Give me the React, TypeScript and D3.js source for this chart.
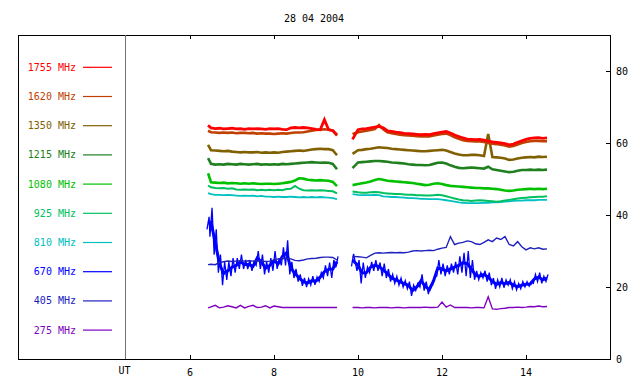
import React from "react";
import * as d3 from "d3";

const TITLE = "28 04 2004";
const FREQS = ["1755 MHz", "1620 MHz", "1350 MHz", "1215 MHz", "1080 MHz", "925 MHz", "810 MHz", "670 MHz", "405 MHz", "275 MHz"];
const COLORS = ["#ff0000", "#c04000", "#806000", "#208020", "#00c000", "#00c060", "#00c0c0", "#0000ff", "#2020c0", "#8000c0"];
const X_TICKS = [6, 8, 10, 12, 14];
const Y_TICKS = [0, 20, 40, 60, 80];

const T1 = [6.43, 6.5, 6.6, 6.7, 6.8, 6.9, 7.0, 7.1, 7.2, 7.3, 7.4, 7.5, 7.6, 7.7, 7.8, 7.9, 8.0, 8.1, 8.2, 8.3, 8.4, 8.5, 8.6, 8.7, 8.8, 8.9, 9.0, 9.1, 9.2, 9.3, 9.4, 9.5];
const T2 = [9.87, 10.0, 10.1, 10.2, 10.3, 10.4, 10.5, 10.6, 10.7, 10.8, 10.9, 11.0, 11.1, 11.2, 11.3, 11.4, 11.5, 11.6, 11.7, 11.8, 11.9, 12.0, 12.1, 12.2, 12.3, 12.4, 12.5, 12.6, 12.7, 12.8, 12.9, 13.0, 13.1, 13.2, 13.3, 13.4, 13.5, 13.6, 13.7, 13.8, 13.9, 14.0, 14.1, 14.2, 14.3, 14.4, 14.5];

const F1755_A = [64.9, 64.2, 64.0, 64.1, 63.9, 64.0, 64.1, 63.9, 64.0, 63.8, 64.0, 63.9, 64.0, 63.9, 63.8, 64.0, 63.9, 64.0, 63.8, 63.7, 64.2, 64.3, 64.2, 64.3, 64.2, 64.0, 63.8, 63.7, 66.5, 63.7, 63.4, 62.3];
const F1755_B = [61.0, 63.7, 63.9, 64.0, 64.2, 64.4, 64.6, 64.2, 63.4, 63.2, 63.0, 62.9, 62.7, 62.6, 62.5, 62.4, 62.3, 62.4, 62.3, 62.6, 62.8, 63.0, 63.2, 62.8, 62.2, 61.8, 61.4, 61.1, 61.0, 60.9, 61.0, 60.8, 60.5, 60.3, 60.2, 60.0, 59.8, 59.5, 59.7, 60.2, 60.6, 61.0, 61.3, 61.4, 61.5, 61.3, 61.4];
const F1620_A = [63.4, 63.0, 62.9, 62.8, 62.9, 62.8, 62.9, 62.7, 62.8, 62.8, 62.7, 62.8, 62.6, 62.7, 62.6, 62.6, 62.5, 62.6, 62.7, 62.6, 62.8, 62.9, 62.9, 63.0, 63.2, 63.4, 63.6, 63.7, 63.8, 63.7, 63.5, 62.0];
const F1620_B = [62.5, 63.0, 63.2, 63.4, 63.6, 63.9, 65.0, 63.8, 63.0, 62.7, 62.5, 62.3, 62.2, 62.1, 62.0, 61.9, 61.8, 61.9, 61.8, 62.1, 62.3, 62.5, 62.6, 62.2, 61.6, 61.2, 60.8, 60.6, 60.5, 60.4, 60.4, 60.3, 60.0, 59.8, 59.7, 59.5, 59.3, 59.0, 59.2, 59.6, 60.0, 60.3, 60.5, 60.6, 60.6, 60.5, 60.5];
const F1350_A = [59.5, 58.0, 57.9, 57.8, 57.7, 57.8, 57.6, 57.5, 57.4, 57.5, 57.4, 57.4, 57.5, 57.3, 57.4, 57.3, 57.4, 57.3, 57.5, 57.6, 57.7, 57.8, 57.9, 57.8, 58.0, 58.2, 58.3, 58.4, 58.3, 58.3, 58.0, 56.6];
const F1350_B = [57.0, 58.0, 58.1, 58.3, 58.4, 58.6, 58.8, 58.7, 58.6, 58.4, 58.3, 58.2, 58.1, 58.0, 57.9, 57.8, 57.7, 57.7, 57.8, 57.9, 58.0, 58.1, 57.9, 57.5, 57.1, 56.8, 56.6, 56.6, 56.7, 56.7, 56.6, 56.4, 62.5, 56.1, 56.0, 55.9, 55.7, 55.3, 55.4, 55.7, 55.9, 56.0, 56.1, 56.0, 56.2, 56.1, 56.2];
const F1215_A = [55.8, 54.2, 54.0, 54.1, 54.0, 54.2, 54.1, 54.0, 54.2, 54.1, 54.0, 54.1, 54.2, 54.0, 54.1, 54.0, 54.1, 54.0, 54.2, 54.1, 54.2, 54.3, 54.4, 54.5, 54.6, 54.7, 54.6, 54.5, 54.6, 54.5, 54.2, 52.7];
const F1215_B = [53.0, 54.6, 54.7, 54.8, 54.9, 55.0, 55.0, 54.9, 54.8, 54.6, 54.5, 54.4, 54.3, 54.1, 54.0, 53.9, 53.9, 53.8, 53.9, 54.2, 54.5, 54.6, 54.3, 53.8, 53.4, 53.1, 53.0, 53.1, 53.2, 53.1, 53.0, 52.9, 53.4, 52.7, 52.5, 52.3, 52.1, 51.9, 52.0, 52.3, 52.5, 52.5, 52.6, 52.5, 52.6, 52.5, 52.6];
const F1080_A = [51.6, 49.1, 49.0, 48.9, 49.0, 48.8, 48.9, 48.8, 48.7, 48.8, 48.7, 48.8, 48.7, 48.6, 48.7, 48.7, 48.6, 48.7, 48.8, 49.0, 49.2, 49.6, 50.2, 50.1, 49.8, 49.7, 49.6, 49.7, 49.6, 49.5, 49.2, 48.0];
const F1080_B = [48.3, 48.6, 48.8, 49.0, 49.3, 49.7, 50.0, 49.8, 49.5, 49.4, 49.3, 49.2, 49.1, 49.0, 48.9, 48.7, 48.5, 48.3, 48.4, 48.7, 48.8, 48.6, 48.3, 48.1, 48.0, 47.9, 47.8, 47.7, 47.6, 47.5, 47.5, 47.4, 47.4, 47.3, 47.2, 47.0, 46.8, 46.7, 46.8, 47.0, 47.1, 47.2, 47.3, 47.2, 47.3, 47.2, 47.3];
const F925_A = [48.2, 47.7, 47.5, 47.4, 47.5, 47.3, 47.4, 47.1, 47.0, 47.1, 47.0, 47.1, 46.9, 47.0, 46.9, 47.0, 46.9, 47.0, 46.9, 47.2, 47.3, 48.1, 47.3, 46.9, 46.8, 46.9, 46.8, 46.9, 46.8, 46.7, 46.6, 46.0];
const F925_B = [46.5, 46.3, 46.2, 46.2, 46.3, 46.4, 46.3, 46.1, 46.0, 45.9, 45.8, 45.8, 45.7, 45.6, 45.6, 45.5, 45.5, 45.4, 45.4, 45.5, 45.6, 45.5, 45.2, 44.9, 44.6, 44.3, 44.1, 44.0, 43.9, 44.0, 44.1, 44.0, 43.9, 43.8, 43.7, 43.8, 44.0, 44.2, 44.4, 44.6, 44.7, 44.8, 44.9, 45.0, 45.1, 45.1, 45.2];
const F810_A = [46.1, 45.8, 45.6, 45.6, 45.5, 45.6, 45.5, 45.4, 45.3, 45.4, 45.3, 45.4, 45.2, 45.3, 45.1, 45.1, 45.0, 45.1, 45.0, 45.0, 45.1, 45.0, 44.9, 45.0, 44.9, 45.0, 44.9, 45.0, 44.9, 44.8, 44.7, 44.4];
const F810_B = [45.8, 45.6, 45.5, 45.5, 45.5, 45.6, 45.5, 45.2, 45.1, 45.0, 45.0, 44.9, 44.8, 44.7, 44.7, 44.6, 44.5, 44.5, 44.4, 44.4, 44.4, 44.3, 44.1, 43.9, 43.7, 43.5, 43.4, 43.3, 43.3, 43.3, 43.3, 43.4, 43.4, 43.5, 43.5, 43.6, 43.7, 43.8, 43.9, 44.0, 44.0, 44.1, 44.1, 44.1, 44.2, 44.2, 44.2];
const F670_LO_A = [36, 34, 29, 24, 20.5, 22, 23, 24, 25, 25, 25, 24.5, 26, 25, 23.5, 24, 24.5, 25, 26, 26, 23.5, 22.5, 21.5, 20.3, 20, 20.5, 20.6, 21.5, 22.5, 23, 22.5, 25.5];
const F670_HI_A = [39.5, 42, 36, 29, 27, 27, 28, 28, 29, 27.5, 27.5, 27, 30, 29, 27, 28, 30, 28, 31, 33, 27, 25, 23.5, 22.5, 22.3, 23, 22.8, 24, 26, 26.8, 27.5, 28.5];
const F670_LO_B = [25.7, 24.5, 21.0, 22.5, 24.0, 24.5, 24.5, 23.0, 22.5, 21.5, 21.0, 20.5, 20.0, 19.5, 17.5, 19.0, 20.0, 19.0, 18.0, 20.5, 23.0, 23.5, 23.0, 23.5, 24.0, 23.5, 24.0, 23.0, 22.5, 22.0, 22.0, 22.5, 21.5, 20.5, 19.5, 20.0, 19.8, 20.5, 19.5, 19.2, 19.5, 20.0, 20.2, 21.0, 21.5, 21.0, 21.5];
const F670_HI_B = [29.2, 27.5, 26.8, 25.5, 27.0, 27.5, 26.8, 26.5, 25.0, 23.5, 23.0, 22.5, 21.8, 21.5, 20.5, 21.0, 23.5, 21.5, 20.5, 23.0, 27.5, 26.5, 26.0, 26.5, 27.0, 28.5, 29.5, 30.0, 27.5, 24.5, 24.0, 24.5, 24.0, 22.5, 22.0, 22.5, 22.0, 22.0, 21.5, 21.0, 21.5, 21.5, 21.5, 23.5, 24.0, 23.0, 23.5];
const F405_A = [26.2, 26.3, 26.2, 26.8, 27.0, 27.2, 27.1, 27.2, 27.3, 27.2, 27.3, 27.2, 27.3, 27.2, 27.1, 27.2, 27.5, 27.8, 28.0, 27.9, 27.8, 27.4, 27.3, 27.5, 27.8, 27.9, 28.0, 28.2, 28.3, 28.3, 28.2, 27.5];
const F405_B = [28.5, 28.4, 28.3, 28.1, 28.8, 29.4, 29.5, 29.4, 29.5, 29.6, 29.5, 29.6, 29.5, 29.7, 30.0, 30.1, 30.0, 30.1, 30.2, 30.1, 30.5, 30.8, 31.0, 34.0, 31.8, 32.2, 32.4, 32.8, 32.6, 32.0, 31.8, 32.4, 33.1, 32.6, 33.6, 33.2, 34.0, 31.8, 31.4, 32.6, 31.2, 30.3, 30.9, 30.6, 30.9, 30.5, 30.6];
const F275_A = [14.2, 14.5, 14.9, 14.2, 14.4, 14.8, 14.5, 14.2, 14.9, 14.2, 14.6, 14.9, 14.3, 14.4, 14.8, 14.2, 14.7, 14.5, 14.3, 14.3, 14.3, 14.3, 14.3, 14.3, 14.3, 14.3, 14.3, 14.3, 14.3, 14.3, 14.3, 14.3];
const F275_B = [14.3, 14.3, 14.2, 14.3, 14.3, 14.2, 14.3, 14.3, 14.3, 14.2, 14.3, 14.3, 14.2, 14.3, 14.3, 14.3, 14.3, 14.4, 14.3, 14.3, 14.4, 15.8, 14.4, 15.0, 14.3, 14.3, 14.3, 14.3, 14.2, 14.3, 14.3, 14.2, 17.3, 13.9, 13.8, 14.0, 14.1, 14.3, 14.3, 14.4, 14.3, 14.4, 14.6, 14.5, 14.7, 14.5, 14.6];

const SMOOTH = [
  { k: 0, a: F1755_A, b: F1755_B, w: 2.8 },
  { k: 1, a: F1620_A, b: F1620_B, w: 2.6 },
  { k: 2, a: F1350_A, b: F1350_B, w: 2.6 },
  { k: 3, a: F1215_A, b: F1215_B, w: 2.6 },
  { k: 4, a: F1080_A, b: F1080_B, w: 2.6 },
  { k: 5, a: F925_A, b: F925_B, w: 2.0 },
  { k: 6, a: F810_A, b: F810_B, w: 1.8 },
  { k: 9, a: F275_A, b: F275_B, w: 1.4 },
];

const FONT = "'DejaVu Sans Mono', monospace";

export default function App() {
  const L = 18, R = 610, T = 35, B = 359, DIV = 125;
  const x = d3.scaleLinear().domain([4.5, 16]).range([127, 610]);
  const y = d3.scaleLinear().domain([0, 90]).range([B, T]);
  const line = d3.line<[number, number]>().x((d) => x(d[0])).y((d) => y(d[1]));
  const zip = (t: number[], v: number[]) => t.map((tt, i) => [tt, v[i]] as [number, number]);
  const mid = (t: number[], lo: number[], hi: number[]) => t.map((tt, i) => [tt, (lo[i] + hi[i]) / 2] as [number, number]);
  // each bin drawn as a low sample then a high sample (min/max of the dense record)
  const minmax = (t: number[], lo: number[], hi: number[]) => {
    const pts: [number, number][] = [];
    t.forEach((tt, i) => {
      pts.push([tt - 0.025, lo[i]]);
      pts.push([tt + 0.025, hi[i]]);
    });
    return pts;
  };
  const legY = (k: number) => 67.3 + k * 29.2;

  return (
    <svg width={640} height={384} style={{ position: "absolute", left: 0, top: 0, display: "block" }} fontFamily={FONT} fontSize={10}>
      <rect x={0} y={0} width={640} height={384} fill="#fff" />
      <text x={314} y={18} textAnchor="middle" dominantBaseline="central" fill="#000">{TITLE}</text>
      <rect x={L + 0.5} y={T + 0.5} width={R - L} height={B - T} fill="none" stroke="#000" strokeWidth={1} shapeRendering="crispEdges" />
      <line x1={DIV + 0.5} x2={DIV + 0.5} y1={T} y2={B} stroke="#707070" strokeWidth={1} shapeRendering="crispEdges" />
      {X_TICKS.map((t) => (
        <g key={"xt" + t}>
          <line x1={Math.round(x(t)) + 0.5} x2={Math.round(x(t)) + 0.5} y1={T} y2={T + 4} stroke="#000" shapeRendering="crispEdges" />
          <line x1={Math.round(x(t)) + 0.5} x2={Math.round(x(t)) + 0.5} y1={B - 4} y2={B} stroke="#000" shapeRendering="crispEdges" />
          <text x={x(t)} y={372} textAnchor="middle" dominantBaseline="central" fill="#000">{t}</text>
        </g>
      ))}
      <text x={124.5} y={370} textAnchor="middle" dominantBaseline="central" fill="#000">UT</text>
      {Y_TICKS.map((v) => (
        <g key={"yt" + v}>
          <line x1={R - 4} x2={R} y1={Math.round(y(v)) + 0.5} y2={Math.round(y(v)) + 0.5} stroke="#000" shapeRendering="crispEdges" />
          <text x={616} y={y(v)} dominantBaseline="central" fill="#000">{v}</text>
        </g>
      ))}
      {FREQS.map((f, k) => (
        <g key={"lg" + k}>
          <text x={76} y={legY(k)} textAnchor="end" dominantBaseline="central" fill={COLORS[k]}>{f}</text>
          <line x1={83} x2={112} y1={legY(k)} y2={legY(k)} stroke={COLORS[k]} strokeWidth={1.2} />
        </g>
      ))}
      <g fill="none">
        {SMOOTH.slice().reverse().map((s) => (
          <g key={"s" + s.k}>
            <path d={line(zip(T1, s.a)) || ""} stroke={COLORS[s.k]} strokeWidth={s.w} />
            <path d={line(zip(T2, s.b)) || ""} stroke={COLORS[s.k]} strokeWidth={s.w} />
          </g>
        ))}
        <path d={line(mid(T1, F670_LO_A, F670_HI_A)) || ""} stroke={COLORS[7]} strokeWidth={3} />
        <path d={line(mid(T2, F670_LO_B, F670_HI_B)) || ""} stroke={COLORS[7]} strokeWidth={3} />
        <path d={line(minmax(T1, F670_LO_A, F670_HI_A)) || ""} stroke={COLORS[7]} strokeWidth={1.3} />
        <path d={line(minmax(T2, F670_LO_B, F670_HI_B)) || ""} stroke={COLORS[7]} strokeWidth={1.3} />
        <path d={line(zip(T1, F405_A)) || ""} stroke={COLORS[8]} strokeWidth={1.4} />
        <path d={line(zip(T2, F405_B)) || ""} stroke={COLORS[8]} strokeWidth={1.4} />
      </g>
    </svg>
  );
}
